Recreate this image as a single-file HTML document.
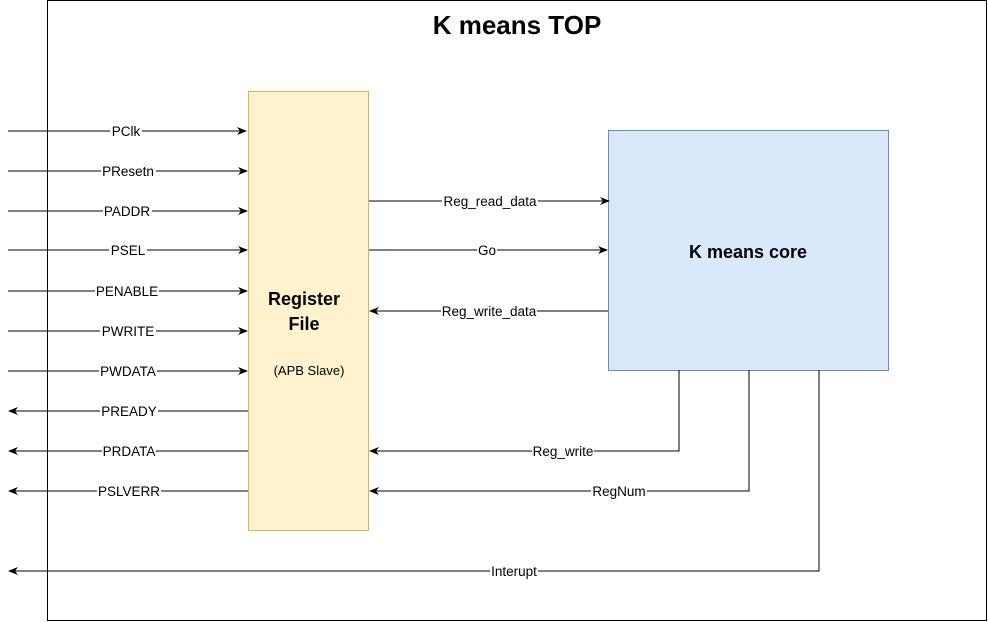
<!DOCTYPE html>
<html><head><style>body{margin:0;background:#fff}svg{display:block}text{font-family:"Liberation Sans",Arial,sans-serif}</style></head><body>
<svg width="988" height="622" viewBox="0 0 988 622" xmlns="http://www.w3.org/2000/svg">
<defs><marker id="a" markerWidth="10" markerHeight="8" refX="9" refY="4" orient="auto" markerUnits="userSpaceOnUse"><path d="M0,0 L10,4 L0,8 L3,4 Z" fill="#000"/></marker></defs>
<rect x="47.5" y="0.5" width="939" height="620" fill="#fff" stroke="#000"/>
<text x="517" y="34" font-size="26" font-weight="bold" text-anchor="middle">K means TOP</text>
<rect x="248.5" y="91.5" width="120" height="439" fill="#fff2cc" stroke="#d6b656"/>
<rect x="608.5" y="130.5" width="280" height="240" fill="#dae8fc" stroke="#6c8ebf"/>
<text x="304" y="305" font-size="18" font-weight="bold" text-anchor="middle">Register</text>
<text x="304" y="330" font-size="18" font-weight="bold" text-anchor="middle">File</text>
<text x="309" y="375" font-size="13" text-anchor="middle">(APB Slave)</text>
<text x="748" y="258" font-size="18" font-weight="bold" text-anchor="middle">K means core</text>
<g stroke="#000" stroke-width="1" fill="none">
<line x1="8" y1="131" x2="246" y2="131" marker-end="url(#a)"/>
<line x1="8" y1="171" x2="247" y2="171" marker-end="url(#a)"/>
<line x1="8" y1="211" x2="247" y2="211" marker-end="url(#a)"/>
<line x1="8" y1="250" x2="247" y2="250" marker-end="url(#a)"/>
<line x1="8" y1="291" x2="247" y2="291" marker-end="url(#a)"/>
<line x1="8" y1="331" x2="247" y2="331" marker-end="url(#a)"/>
<line x1="8" y1="371" x2="247" y2="371" marker-end="url(#a)"/>
<line x1="248" y1="411" x2="9" y2="411" marker-end="url(#a)"/>
<line x1="248" y1="451" x2="9" y2="451" marker-end="url(#a)"/>
<line x1="248" y1="491" x2="9" y2="491" marker-end="url(#a)"/>
<line x1="369" y1="201" x2="609" y2="201" marker-end="url(#a)"/>
<line x1="369" y1="250" x2="607" y2="250" marker-end="url(#a)"/>
<line x1="608" y1="311" x2="370" y2="311" marker-end="url(#a)"/>
<polyline points="679,370 679,451 370,451" marker-end="url(#a)"/>
<polyline points="749,370 749,491 370,491" marker-end="url(#a)"/>
<polyline points="819,370 819,571 9,571" marker-end="url(#a)"/>
</g>
<g fill="#fff">
<rect x="110" y="123" width="32" height="16"/><rect x="101" y="163" width="55" height="16"/><rect x="103" y="203" width="49" height="16"/>
<rect x="109" y="242" width="38" height="16"/><rect x="95" y="283" width="64" height="16"/><rect x="100" y="323" width="56" height="16"/>
<rect x="99" y="363" width="58" height="16"/><rect x="100" y="403" width="58" height="16"/><rect x="102" y="443" width="54" height="16"/>
<rect x="97" y="483" width="64" height="16"/><rect x="442" y="193" width="96" height="16"/><rect x="477" y="242" width="20" height="16"/>
<rect x="441" y="303" width="96" height="16"/><rect x="532" y="443" width="62" height="16"/><rect x="591" y="483" width="56" height="16"/>
<rect x="490" y="563" width="48" height="16"/></g>
<g font-size="13.5" text-anchor="middle">
<text x="126" y="136">PClk</text><text x="128" y="176">PResetn</text><text x="127" y="216">PADDR</text>
<text x="128" y="255">PSEL</text><text x="127" y="296">PENABLE</text><text x="128" y="336">PWRITE</text>
<text x="128" y="376">PWDATA</text><text x="129" y="416">PREADY</text><text x="129" y="456">PRDATA</text>
<text x="129" y="496">PSLVERR</text><text x="490" y="206">Reg_read_data</text><text x="487" y="255">Go</text>
<text x="489" y="316">Reg_write_data</text><text x="563" y="456">Reg_write</text><text x="619" y="496">RegNum</text>
<text x="514" y="576">Interupt</text>
</g>
</svg>
</body></html>
